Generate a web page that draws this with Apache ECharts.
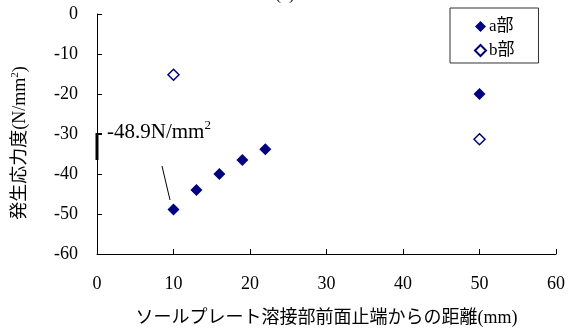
<!DOCTYPE html>
<html><head><meta charset="utf-8">
<script src="https://cdn.jsdelivr.net/npm/echarts@6/dist/echarts.min.js"></script>
<style>html,body{margin:0;padding:0;background:#fff}#c{width:570px;height:333px}</style>
</head><body><div id="c"></div>
<script>
var aX = [10, 13, 16, 19, 22, 50];
var aY = [-48.9, -44, -40, -36.5, -33.8, -20];
var bX = [10, 50];
var bY = [-15.2, -31.3];
var xTicks = [0, 10, 20, 30, 40, 50, 60];
var yTicks = [0, -10, -20, -30, -40, -50, -60];
var seriesNames = ['a部', 'b部'];

var serif = '"Liberation Serif", "Times New Roman", "Noto Sans CJK JP", serif';
function pairs(xs, ys){ return xs.map(function(x,i){ return [x, ys[i]]; }); }

var chart = echarts.init(document.getElementById('c'), null, {renderer:'canvas'});
chart.setOption({
  animation: false,
  backgroundColor: '#fff',
  grid: {left: 97, top: 14, right: 14, bottom: 79},
  xAxis: {
    type: 'value', min: 0, max: 60, interval: 10,
    position: 'bottom',
    axisLine: {onZero: false, lineStyle: {color: '#000', width: 1}},
    axisTick: {inside: true, length: 5, lineStyle: {color: '#000'}},
    splitLine: {show: false},
    axisLabel: {color: '#000', fontFamily: serif, fontSize: 18, margin: 21},
    name: 'ソールプレート溶接部前面止端からの距離(mm)',
    nameLocation: 'middle', nameGap: 55,
    nameTextStyle: {color: '#000', fontFamily: serif, fontSize: 18}
  },
  yAxis: {
    type: 'value', min: -60, max: 0, interval: 10,
    axisLine: {onZero: false, lineStyle: {color: '#000', width: 1}},
    axisTick: {inside: true, length: 5, lineStyle: {color: '#000'}},
    splitLine: {show: false},
    axisLabel: {color: '#000', fontFamily: serif, fontSize: 18, margin: 19}
  },
  legend: {
    orient: 'vertical', left: 450, top: 8,
    padding: [10, 24, 4, 24],
    itemGap: 7,
    borderColor: '#333', borderWidth: 1,
    itemWidth: 11, itemHeight: 11,
    textStyle: {color: '#000', fontFamily: serif, fontSize: 17, padding: [0,0,0,-2]},
    data: [
      {name: seriesNames[0], icon: 'diamond'},
      {name: seriesNames[1], icon: 'diamond'}
    ]
  },
  graphic: [
    {type: 'text', left: 'center', top: -15, style: {text: '(a)', font: '18px ' + serif, fill: '#000'}},
    {type: 'text', x: 20, y: 143, rotation: Math.PI/2, style: {
      text: '発生応力度(N/mm{s|2})', fill: '#000', font: '18px ' + serif,
      align: 'center', verticalAlign: 'middle',
      rich: {s: {fontSize: 11, fontFamily: serif, padding: [0,0,10,0]}}
    }},
    {type: 'line', shape: {x1: 97, y1: 133, x2: 97, y2: 160}, style: {stroke: '#000', lineWidth: 3}},
    {type: 'line', shape: {x1: 96, y1: 134, x2: 102, y2: 134}, style: {stroke: '#000', lineWidth: 2}},
    {type: 'text', x: 107, y: 132, style: {
      text: '-48.9N/mm{s|2}', fill: '#000', font: '21px ' + serif, verticalAlign: 'middle',
      rich: {s: {fontSize: 13, fontFamily: serif, padding: [0,0,12,0]}}
    }},
    {type: 'line', shape: {x1: 162, y1: 166, x2: 170, y2: 200}, style: {stroke: '#000', lineWidth: 1}}
  ],
  series: [
    {name: seriesNames[0], type: 'scatter', symbol: 'diamond', symbolSize: 12,
     itemStyle: {color: '#000080', opacity: 1}, data: pairs(aX, aY), z: 3},
    {name: seriesNames[1], type: 'scatter', symbol: 'diamond', symbolSize: 11,
     itemStyle: {color: '#fff', borderColor: '#000080', borderWidth: 1.5, opacity: 1}, data: pairs(bX, bY), z: 3}
  ]
});
</script></body></html>
